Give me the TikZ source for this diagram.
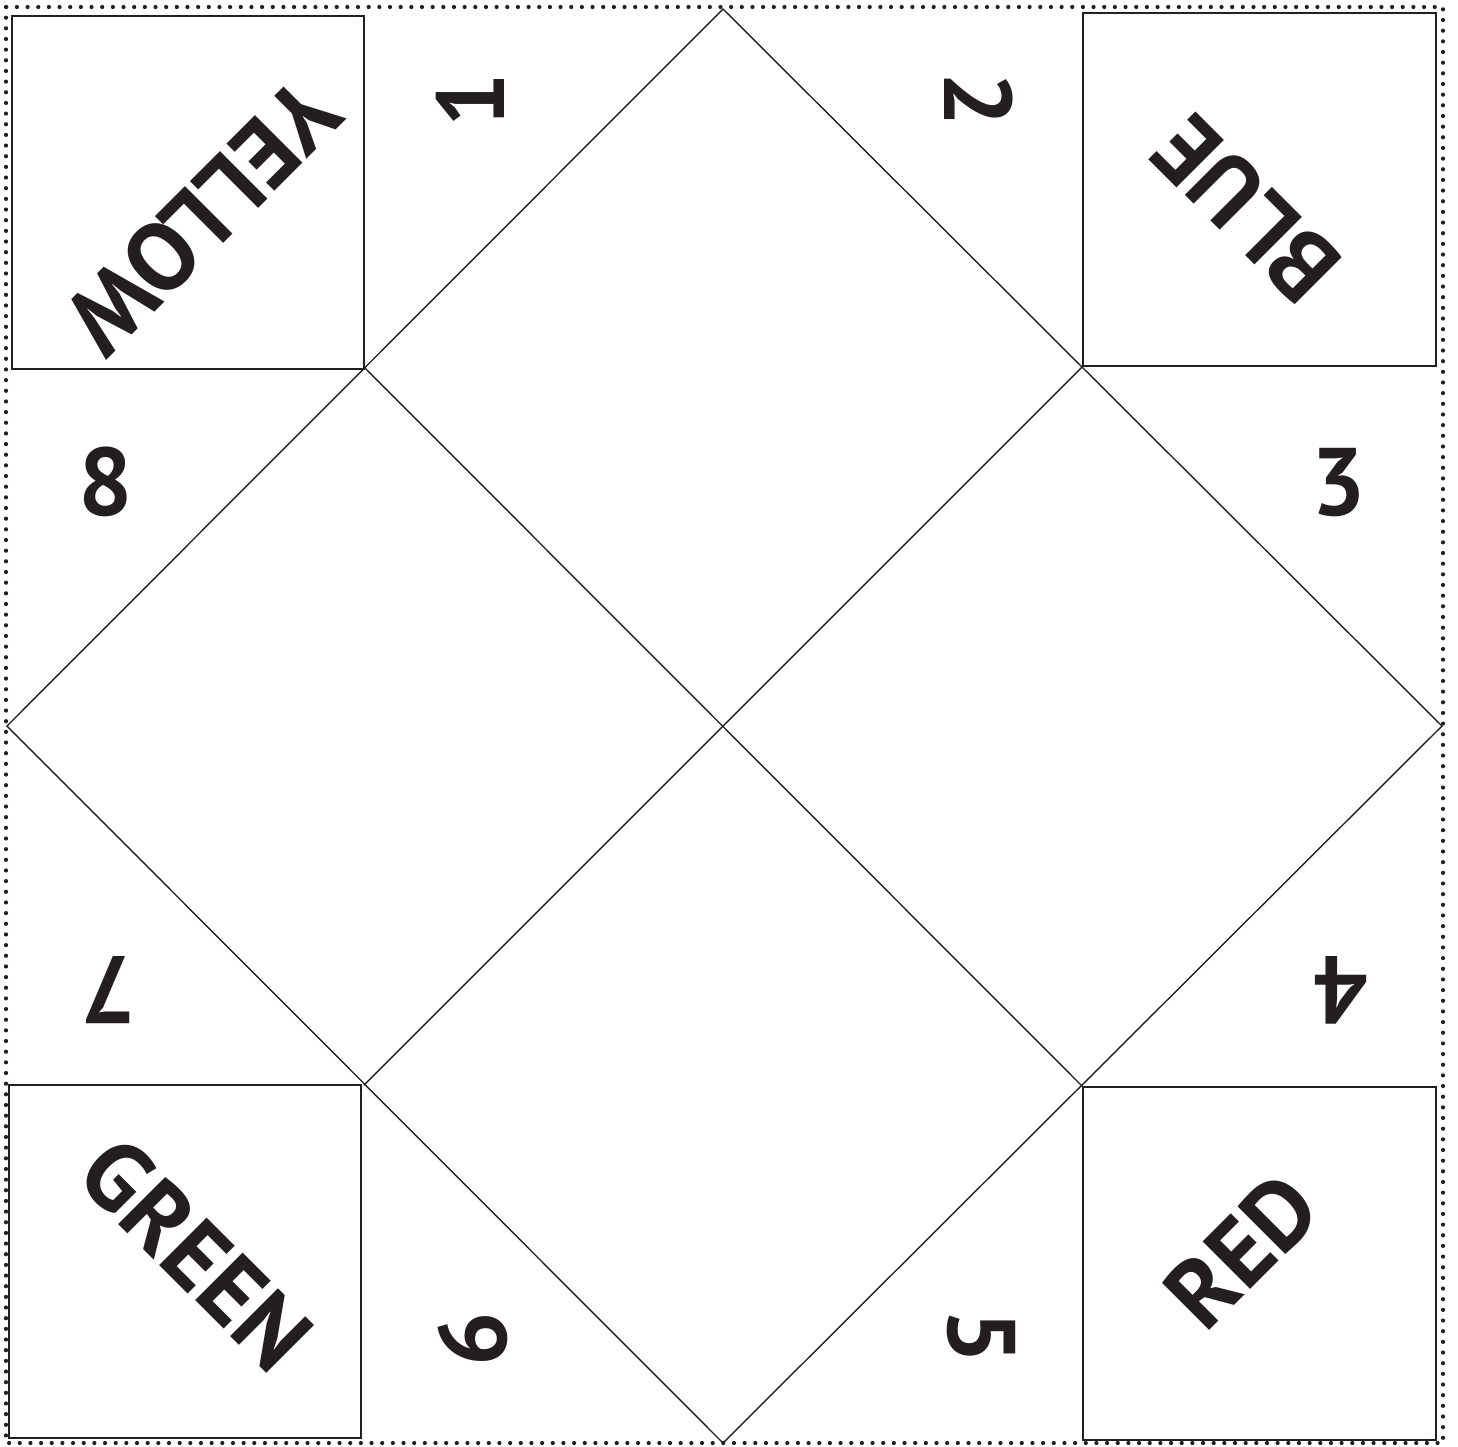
\documentclass[tikz,border=0pt]{standalone}
\usepackage{fontspec}
\setmainfont{PT Sans}
\definecolor{ink}{HTML}{231F20}
\begin{document}
\begin{tikzpicture}[x=0.5pt,y=-0.5pt,
  fold/.style={draw=ink,line width=0.7pt},
  corner/.style={draw=ink,line width=1pt},
  cutline/.style={draw=ink,line width=2.1pt,line cap=round,dash pattern=on 0pt off 5.33pt},
  word/.style={text=ink,inner sep=0pt,font=\fontsize{48}{48}\selectfont\bfseries},
  num/.style={text=ink,inner sep=0pt,font=\fontsize{48}{48}\selectfont\bfseries}]
\useasboundingbox (0,0) rectangle (1458,1447);
% cut line
\draw[cutline] (6,7) rectangle (1443,1443);
% diamond
\coordinate (T) at (723,9);
\coordinate (R) at (1442,726);
\coordinate (B) at (723,1443);
\coordinate (L) at (7,726);
\draw[fold] (T) -- (R) -- (B) -- (L) -- cycle;
\coordinate (mTL) at (365,368);
\coordinate (mTR) at (1082,367);
\coordinate (mBR) at (1082,1086);
\coordinate (mBL) at (364,1085);
\draw[fold] (mTL) -- (mBR);
\draw[fold] (mTR) -- (mBL);
% corner squares
\draw[corner] (12,16) rectangle (364,369);
\draw[corner] (1083,13) rectangle (1436,366);
\draw[corner] (9,1085) rectangle (361,1438);
\draw[corner] (1083,1087) rectangle (1436,1440);
% colour words
\node[word,rotate=-135] (yellow) at (203,216) {YELLOW};
\node[word,rotate=135] (blue) at (1246,209) {BLUE};
\node[word,rotate=-45] (green) at (196,1254) {GREEN};
\node[word,rotate=45] (red) at (1242,1251) {RED};
% numbers
\node[num,rotate=90] (n1) at (470,100) {1};
\node[num,rotate=-90] (n2) at (979,100) {2};
\node[num] (n3) at (1339,483) {3};
\node[num,rotate=180] (n4) at (1341,990) {4};
\node[num,rotate=-90] (n5) at (981,1337) {5};
\node[num,rotate=90] (n6) at (473,1339) {6};
\node[num,rotate=180] (n7) at (108,990) {7};
\node[num] (n8) at (106,482) {8};
\end{tikzpicture}
\end{document}
